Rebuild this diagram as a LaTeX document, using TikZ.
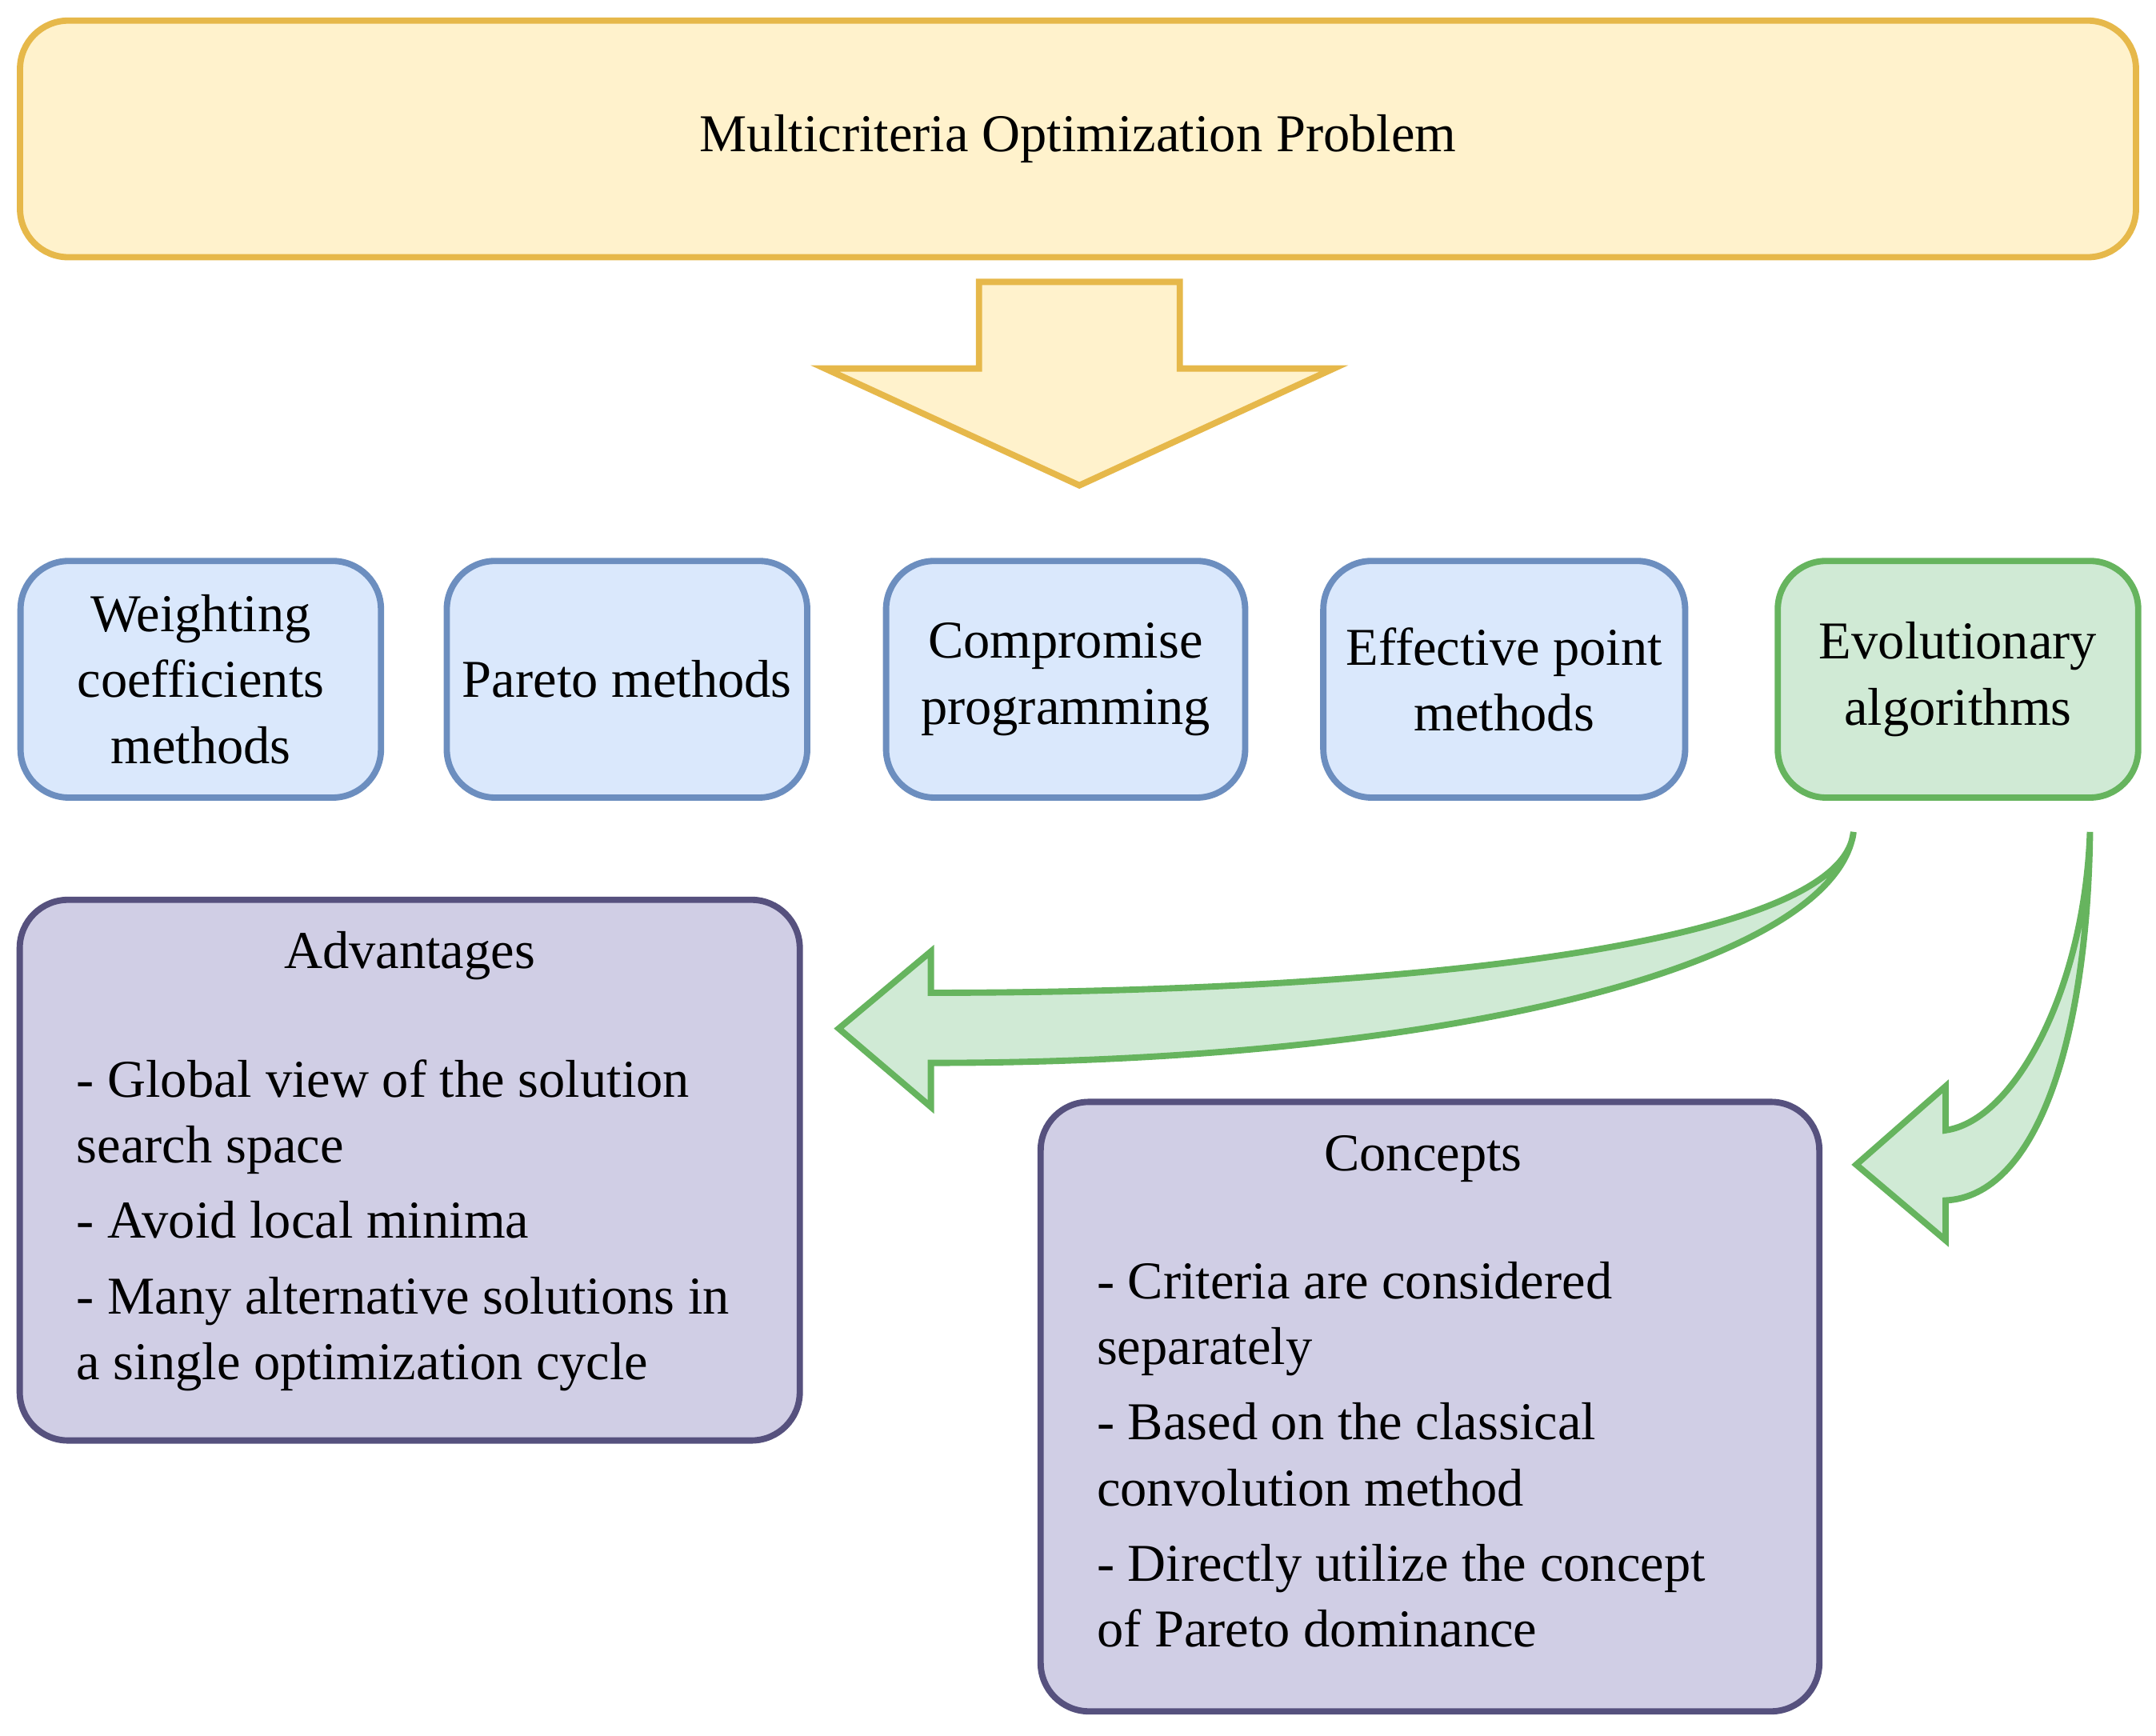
\documentclass[tikz,border=0pt]{standalone}
\usepackage{fontspec}
\setmainfont{Liberation Serif}
\begin{document}
\begin{tikzpicture}[x=0.01cm,y=-0.01cm,
  every node/.style={font=\fontsize{11}{13.6}\selectfont},
  box/.style={draw, line width=1.3pt, rounded corners=10, inner sep=0pt},
  yel/.style={box, fill=yfill, draw=yline},
  blu/.style={box, fill=bfill, draw=bline, align=center},
  grn/.style={box, fill=gfill, draw=gline, align=center},
  pur/.style={box, fill=pfill, draw=pline},
  garrow/.style={fill=gfill, draw=gline, line width=1.3pt, line join=miter}]
\definecolor{yfill}{HTML}{FFF2CC}\definecolor{yline}{HTML}{E6B84A}
\definecolor{bfill}{HTML}{DAE8FC}\definecolor{bline}{HTML}{6C8EBF}
\definecolor{gfill}{HTML}{D0EAD5}\definecolor{gline}{HTML}{66B45E}
\definecolor{pfill}{HTML}{D0CEE5}\definecolor{pline}{HTML}{56517E}
\useasboundingbox (0,0) rectangle (1568,1262);

% top box and block arrow
\node[yel, minimum width=15.38cm, minimum height=1.72cm] (mop) at (784,101) {Multicriteria Optimization Problem};
\draw[fill=yfill, draw=yline, line width=1.3pt] (712,205) -- (858,205) -- (858,268) -- (970,268)
  -- (785,353) -- (600,268) -- (712,268) -- cycle;

% method boxes
\node[blu, minimum width=2.62cm, minimum height=1.72cm] (wcm) at (146,494) {Weighting\\coefficients\\methods};
\node[blu, minimum width=2.62cm, minimum height=1.72cm] (pm) at (456,494) {Pareto methods};
\node[blu, minimum width=2.61cm, minimum height=1.72cm] (cp) at (775,494) {Compromise\\programming};
\node[blu, minimum width=2.63cm, minimum height=1.72cm] (epm) at (1094,494) {Effective point\\methods};
\node[grn, minimum width=2.62cm, minimum height=1.72cm] (ea) at (1424,494) {Evolutionary\\algorithms};

% advantages / concepts boxes
\node[pur, minimum width=5.67cm, minimum height=3.93cm] (adv) at (298,851) {};
\node[pur, minimum width=5.66cm, minimum height=4.43cm] (con) at (1040,1023) {};
\node at (298,695) {Advantages};
\node at (1035,843) {Concepts};
\node[anchor=north west, align=left, inner sep=0pt] (advt) at (55,770)
  {- Global view of the solution\\search space\\[2pt]- Avoid local minima\\[2pt]- Many alternative solutions in\\a single optimization cycle};
\node[anchor=north west, align=left, inner sep=0pt] (cont) at (797,917)
  {- Criteria are considered\\separately\\[2pt]- Based on the classical\\convolution method\\[2pt]- Directly utilize the concept\\of Pareto dominance};

% curved arrows
\coordinate (p1) at (1348,605);
\coordinate (p2) at (1520,605);
\draw[garrow] (p1) .. controls (1340,690) and (1000,722) .. (677,722) -- (677,692) -- (610,748)
  -- (677,805) -- (677,773) .. controls (1060,773) and (1335,700) .. (p1) -- cycle;
\draw[garrow] (p2) .. controls (1518,760) and (1480,870) .. (1415,873) -- (1415,902) -- (1350,847)
  -- (1415,790) -- (1415,822) .. controls (1465,815) and (1516,720) .. (p2) -- cycle;
\end{tikzpicture}
\end{document}
